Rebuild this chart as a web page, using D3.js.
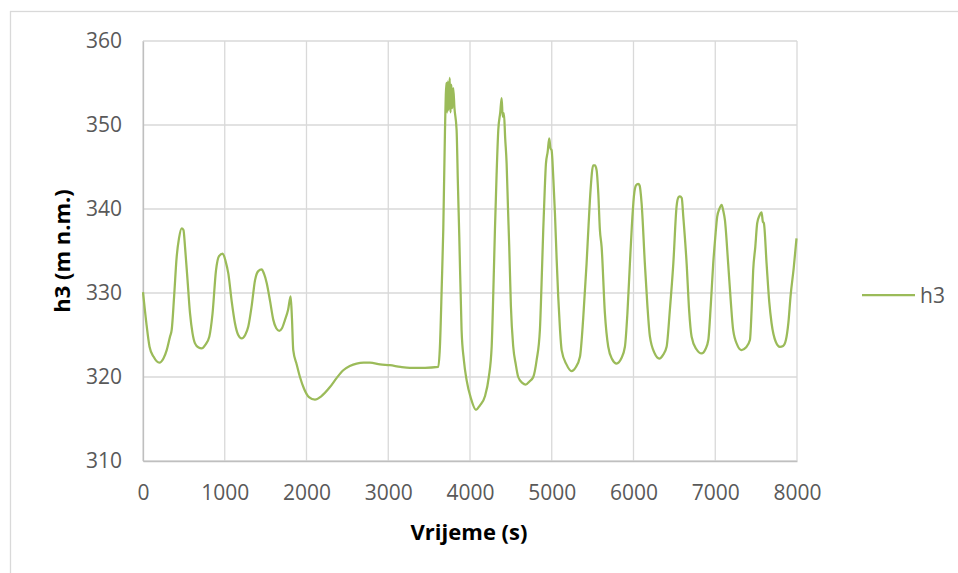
<!DOCTYPE html>
<html>
<head>
<meta charset="utf-8">
<script src="https://cdn.jsdelivr.net/npm/d3@7"></script>
<style>
  html, body { margin: 0; padding: 0; background: #fff; }
  svg { display: block; }
</style>
</head>
<body>
<svg id="chart" width="958" height="573"></svg>
<script>
// ---- data ----
const seriesName = "h3";
const xTicks = [0, 1000, 2000, 3000, 4000, 5000, 6000, 7000, 8000];
const yTicks = [310, 320, 330, 340, 350, 360];
const xTitle = "Vrijeme (s)";
const yTitle = "h3 (m n.m.)";

const time = [
  0, 40, 80, 130, 200, 250, 290, 330, 351, 380, 412, 440, 473, 495, 514, 545, 575, 606, 636, 680,
  717, 760, 811, 850, 893, 930, 975, 1010, 1044, 1085, 1125, 1165, 1207, 1250, 1288, 1330, 1370, 1410, 1452, 1480,
  1513, 1555, 1594, 1630, 1667, 1700, 1737, 1775, 1806, 1822, 1838, 1880, 1920, 1970, 2030, 2104, 2180, 2287, 2370, 2450,
  2530, 2613, 2700, 2776, 2900, 3021, 3150, 3265, 3450, 3612, 3632, 3655, 3673, 3694, 3712, 3720, 3730, 3740, 3752, 3762,
  3772, 3782, 3795, 3810, 3836, 3852, 3869, 3897, 3925, 3959, 4010, 4073, 4120, 4183, 4230, 4265, 4285, 4305, 4325, 4346,
  4370, 4387, 4400, 4415, 4430, 4448, 4465, 4480, 4500, 4529, 4560, 4590, 4640, 4681, 4730, 4774, 4815, 4855, 4875, 4896,
  4915, 4929, 4950, 4969, 4985, 4998, 5020, 5039, 5060, 5079, 5100, 5121, 5180, 5243, 5290, 5345, 5385, 5426, 5450, 5475,
  5507, 5528, 5549, 5569, 5589, 5610, 5650, 5691, 5740, 5793, 5850, 5895, 5925, 5956, 5980, 6005, 6030, 6058, 6075, 6099,
  6139, 6170, 6201, 6260, 6315, 6360, 6405, 6445, 6487, 6527, 6550, 6568, 6590, 6609, 6650, 6680, 6711, 6770, 6833, 6880,
  6915, 6945, 6975, 7000, 7024, 7050, 7078, 7098, 7118, 7158, 7190, 7219, 7270, 7322, 7375, 7424, 7445, 7464, 7490, 7513,
  7540, 7567, 7582, 7595, 7628, 7660, 7689, 7740, 7791, 7830, 7864, 7895, 7921, 7960, 7994
];
const h3 = [
  330.1, 326.5, 323.6, 322.4, 321.7, 322.2, 323.2, 324.8, 325.6, 329.5, 334.3, 336.5, 337.7, 337.5, 335.5, 331.5, 327.6, 325.2, 324.0, 323.5,
  323.4, 323.8, 324.8, 327.5, 332.7, 334.4, 334.7, 333.8, 332.3, 329.0, 326.4, 325.0, 324.6, 325.0, 326.0, 328.5, 331.5, 332.6, 332.8, 332.3,
  331.2, 329.0, 326.8, 325.8, 325.5, 325.8, 326.8, 328.0, 329.6, 327.0, 323.2, 321.5, 320.0, 318.6, 317.6, 317.3, 317.7, 318.8, 319.9, 320.8,
  321.3, 321.6, 321.7, 321.7, 321.5, 321.4, 321.2, 321.1, 321.1, 321.2, 323.6, 331.0, 337.5, 349.4, 355.0, 351.5, 355.2, 351.8, 355.6, 351.5,
  354.8, 352.0, 354.4, 352.0, 349.4, 343.0, 336.7, 325.6, 322.0, 319.6, 317.5, 316.1, 316.6, 317.7, 320.0, 323.6, 330.0, 337.5, 344.0, 349.4,
  351.5, 353.2, 351.0, 351.4, 348.5, 345.4, 340.0, 335.5, 328.5, 323.6, 321.5, 320.0, 319.3, 319.1, 319.5, 320.0, 322.0, 325.6, 331.0, 337.5,
  342.5, 345.4, 346.8, 348.4, 347.2, 347.0, 343.5, 339.5, 334.0, 329.6, 325.8, 323.2, 321.5, 320.7, 321.1, 322.4, 327.0, 333.5, 338.0, 342.3,
  345.2, 345.2, 344.6, 341.9, 337.5, 335.5, 327.6, 323.6, 322.1, 321.6, 322.2, 323.6, 327.5, 333.5, 338.0, 341.5, 342.8, 343.0, 342.8, 340.7,
  333.5, 328.5, 324.8, 322.8, 322.2, 322.6, 323.6, 328.0, 333.5, 340.3, 341.4, 341.5, 341.3, 339.1, 333.5, 328.0, 324.8, 323.3, 322.8, 323.3,
  324.4, 328.5, 333.5, 336.6, 339.1, 340.0, 340.5, 339.8, 338.7, 333.5, 329.0, 325.6, 323.8, 323.2, 323.5, 324.4, 328.0, 332.7, 335.5, 338.3,
  339.2, 339.6, 338.5, 338.3, 333.5, 329.0, 326.4, 324.2, 323.6, 323.7, 324.4, 326.5, 329.6, 333.0, 336.5
];

// ---- layout ----
const svg = d3.select("#chart");
const W = 958, H = 573;
const plot = { left: 143, right: 797, top: 41, bottom: 461 };
const font = "'Open Sans', 'DejaVu Sans', sans-serif";

// outer chart frame
svg.append("rect")
  .attr("x", 10.5).attr("y", 11.5)
  .attr("width", W + 20).attr("height", H + 20)
  .attr("fill", "#fff").attr("stroke", "#d9d9d9").attr("stroke-width", 1.3);

const x = d3.scaleLinear().domain([0, 8000]).range([plot.left, plot.right]);
const y = d3.scaleLinear().domain([310, 360]).range([plot.bottom, plot.top]);

// gridlines
const grid = svg.append("g");
grid.selectAll(".gx").data(xTicks).enter().append("line")
  .attr("x1", d => x(d)).attr("x2", d => x(d))
  .attr("y1", plot.top).attr("y2", plot.bottom)
  .attr("stroke", "#d9d9d9").attr("stroke-width", 1.3);
grid.selectAll(".gy").data(yTicks).enter().append("line")
  .attr("x1", plot.left).attr("x2", plot.right)
  .attr("y1", d => y(d)).attr("y2", d => y(d))
  .attr("stroke", "#d9d9d9").attr("stroke-width", 1.3);

// axes
const xAxis = d3.axisBottom(x).tickValues(xTicks).tickSize(0).tickPadding(24).tickFormat(d3.format("d"));
const yAxis = d3.axisLeft(y).tickValues(yTicks).tickSize(0).tickPadding(21).tickFormat(d3.format("d"));

const gx = svg.append("g").attr("transform", `translate(0,${plot.bottom})`).call(xAxis);
const gy = svg.append("g").attr("transform", `translate(${plot.left},0)`).call(yAxis);
[gx, gy].forEach(g => {
  g.select(".domain").attr("stroke", "#bfbfbf").attr("stroke-width", 1.3);
  g.selectAll("text").attr("fill", "#595959").style("font-family", font).style("font-size", "21px");
});

// line
const line = d3.line()
  .x((d, i) => x(time[i]))
  .y(d => y(d))
  .curve(d3.curveMonotoneX);

svg.append("path")
  .datum(h3)
  .attr("d", line)
  .attr("fill", "none")
  .attr("stroke", "#9bbb59")
  .attr("stroke-width", 2.25)
  .attr("stroke-linejoin", "round");

// axis titles
svg.append("text")
  .attr("x", 469).attr("y", 540)
  .attr("text-anchor", "middle")
  .style("font-family", font).style("font-size", "22px").style("font-weight", "bold")
  .attr("fill", "#000")
  .text(xTitle);

svg.append("text")
  .attr("transform", "translate(70,251) rotate(-90)")
  .attr("text-anchor", "middle")
  .style("font-family", font).style("font-size", "22px").style("font-weight", "bold")
  .attr("fill", "#000")
  .text(yTitle);

// legend
const lg = svg.append("g");
lg.append("line")
  .attr("x1", 862).attr("x2", 915).attr("y1", 295).attr("y2", 295)
  .attr("stroke", "#9bbb59").attr("stroke-width", 2.25);
lg.append("text")
  .attr("x", 920).attr("y", 303)
  .style("font-family", font).style("font-size", "21px")
  .attr("fill", "#595959")
  .text(seriesName);
</script>
</body>
</html>
